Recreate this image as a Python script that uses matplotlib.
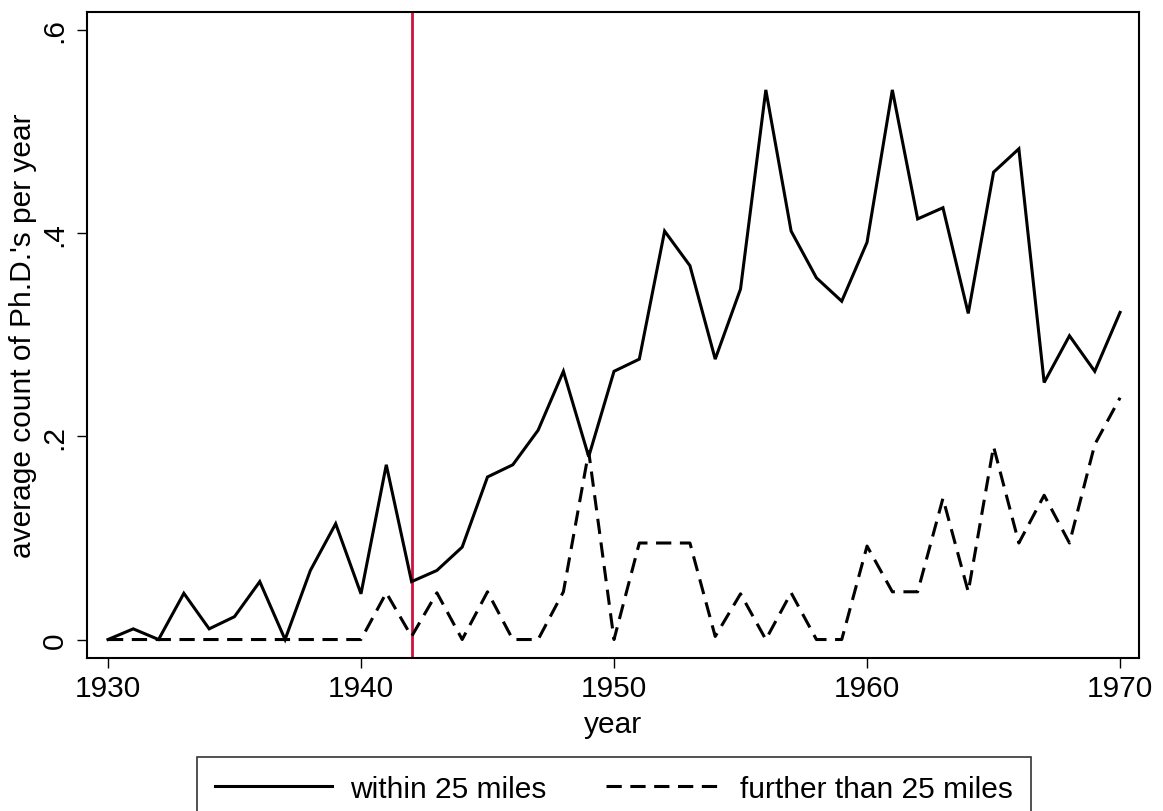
import numpy as np
import matplotlib
matplotlib.use('Agg')
import matplotlib.pyplot as plt

# values
years = list(range(1930, 1971))
within_25 = [0, 0.0105, 0, 0.0455, 0.0105, 0.0225, 0.057, 0, 0.068, 0.114,
             0.045, 0.172, 0.057, 0.068, 0.091, 0.160, 0.172, 0.206, 0.264, 0.180,
             0.264, 0.276, 0.402, 0.368, 0.276, 0.345, 0.541, 0.402, 0.356, 0.333,
             0.391, 0.541, 0.414, 0.425, 0.321, 0.460, 0.483, 0.253, 0.299, 0.264,
             0.322]
further_25 = [0, 0, 0, 0, 0, 0, 0, 0, 0, 0,
              0, 0.046, 0.003, 0.046, 0, 0.047, 0, 0, 0.047, 0.185,
              0, 0.095, 0.095, 0.095, 0.003, 0.045, 0, 0.046, 0, 0,
              0.092, 0.047, 0.047, 0.139, 0.047, 0.190, 0.095, 0.142, 0.095, 0.192,
              0.238]
cutoff_year = 1942
xticks = [1930, 1940, 1950, 1960, 1970]
yticks = [0, 0.2, 0.4, 0.6]
ytick_labels = ['0', '.2', '.4', '.6']
series_labels = ['within 25 miles', 'further than 25 miles']

plt.rcParams['font.family'] = ['Liberation Sans', 'DejaVu Sans']
fs = 21.5

fig = plt.figure(figsize=(11.63, 8.12), dpi=100)
ax = fig.add_axes([0.0752, 0.1884, 0.9042, 0.796])

ax.axvline(cutoff_year, color='#d0103c', lw=2.0, zorder=1)
l1, = ax.plot(years, within_25, color='black', lw=2.2, zorder=3,
              solid_joinstyle='miter')
l2, = ax.plot(years, further_25, color='black', lw=2.2, zorder=3,
              dashes=(5.0, 2.8))

ax.set_xlim(1929.19, 1970.75)
ax.set_ylim(-0.0182, 0.618)
ax.set_xticks(xticks)
ax.set_yticks(yticks)
ax.set_yticklabels(ytick_labels, rotation=90, va='center')
ax.tick_params(axis='both', labelsize=fs, length=7.5, width=1.0, direction='out')
ax.tick_params(axis='x', pad=4)
ax.tick_params(axis='y', pad=6)
for s in ax.spines.values():
    s.set_linewidth(1.5)

ax.set_xlabel('year', fontsize=fs, labelpad=6)
ax.set_ylabel("average count of Ph.D.'s per year", fontsize=fs, labelpad=3)

fig.legend([l1, l2], series_labels, loc='upper center',
           bbox_to_anchor=(0.528, 0.0665), ncol=2, fontsize=fs,
           frameon=True, fancybox=False, edgecolor='black',
           handlelength=3.9, handletextpad=0.6, columnspacing=2.0,
           borderpad=0.6, borderaxespad=0)
fig.legends[0].get_frame().set_linewidth(1.2)

fig.savefig('out.png', dpi=100)
